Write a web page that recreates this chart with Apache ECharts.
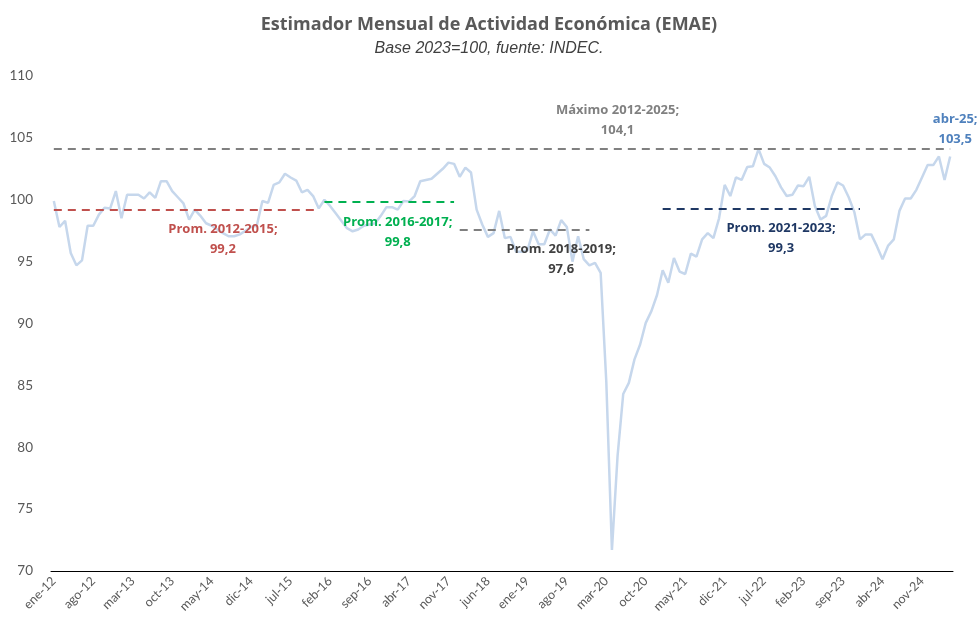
<!DOCTYPE html>
<html>
<head>
<meta charset="utf-8">
<script src="https://cdn.jsdelivr.net/npm/echarts@6/dist/echarts.min.js"></script>
<style>html,body{margin:0;padding:0;background:#fff}#c{width:978px;height:639px}</style>
</head>
<body>
<div id="c"></div>
<script>
// ---- data ----
const monthNames = ['ene','feb','mar','abr','may','jun','jul','ago','sep','oct','nov','dic'];
const years = [12,13,14,15,16,17,18,19,20,21,22,23,24,25];
const categories = [];
years.forEach(y => monthNames.forEach((m, k) => { if (!(y === 25 && k > 3)) categories.push(m + '-' + y); }));

const emae = [
  99.9, 97.8, 98.3, 95.7, 94.7, 95.1, 97.9, 97.9, 98.8, 99.35, 99.3, 100.7,
  98.5, 100.4, 100.4, 100.4, 100.1, 100.6, 100.15, 101.5, 101.5, 100.7, 100.2, 99.7,
  98.4, 99.2, 98.7, 98.1, 97.9, 97.6, 97.3, 97.05, 97.05, 97.2, 97.5, 97.8,
  97.9, 99.9, 99.75, 101.2, 101.4, 102.1, 101.8, 101.55, 100.6, 100.8, 100.3, 99.3,
  100.0, 99.5, 98.9, 98.3, 97.7, 97.45, 97.6, 97.9, 98.0, 98.1, 98.7, 99.4,
  99.4, 99.2, 99.9, 99.85, 100.3, 101.5, 101.6, 101.7, 102.1, 102.5, 103.0, 102.9,
  101.85, 102.6, 102.2, 99.2, 98.0, 97.0, 97.3, 99.1, 96.9, 97.0, 95.8, 95.8,
  95.9, 97.45, 96.4, 96.4, 97.6, 97.1, 98.35, 97.8, 95.0, 97.05, 95.2, 94.7,
  94.9, 94.1, 85.3, 71.7, 79.3, 84.3, 85.2, 87.1, 88.3, 90.05, 91.0, 92.3,
  94.3, 93.3, 95.3, 94.2, 94.0, 95.65, 95.4, 96.8, 97.3, 96.9, 98.5, 101.2,
  100.3, 101.8, 101.6, 102.65, 102.7, 104.1, 102.9, 102.6, 101.9, 101.0, 100.3, 100.4,
  101.15, 101.1, 101.85, 99.5, 98.4, 98.7, 100.3, 101.4, 101.15, 100.2, 99.0, 96.8,
  97.2, 97.2, 96.25, 95.2, 96.3, 96.8, 99.1, 100.1, 100.1, 100.8, 101.8, 102.8,
  102.8, 103.5, 101.6, 103.5
];

// reference lines
const refNames  = ['Prom. 2012-2015', 'Prom. 2016-2017', 'Prom. 2018-2019', 'Prom. 2021-2023', 'Máximo 2012-2025'];
const refValues = [99.2, 99.8, 97.6, 99.3, 104.1];
const refStart  = ['ene-12', 'ene-16', 'ene-18', 'ene-21', 'ene-12'];
const refEnd    = ['dic-15', 'dic-17', 'dic-19', 'dic-23', 'abr-25'];

const yTicks = [70, 75, 80, 85, 90, 95, 100, 105, 110];

// ---- styles ----
const refColors = ['#C0504D', '#00B050', '#7F7F7F', '#1F3864', '#808080'];
const refTextColors = ['#C0504D', '#00B050', '#404040', '#1F3864', '#808080'];
// label anchors (category, value) for annotation text
const labelAnchors = [['jul-14', 96.83], ['feb-17', 97.35], ['jul-19', 95.17], ['oct-22', 96.87], ['may-20', 106.4]];
const FONT = 'Lato, "Open Sans", sans-serif';
const WIDE = '"Open Sans", Lato, sans-serif';
const fmt = v => v.toFixed(1).replace('.', ',');

const markLineData = refValues.map((v, k) => [
  { coord: [refStart[k], v], lineStyle: { color: refColors[k], type: [8, 6], width: 2 } },
  { coord: [refEnd[k], v] }
]);

const markPointData = refValues.map((v, k) => ({
  coord: labelAnchors[k],
  label: {
    formatter: refNames[k] + ';\n' + fmt(v),
    color: refTextColors[k]
  }
}));
const last = categories.length - 1;
markPointData.push({
  coord: [categories[last], 105.68],
  label: { formatter: categories[last] + ';\n' + fmt(emae[last]), color: '#4F81BD', offset: [5, 0] }
});

const chart = echarts.init(document.getElementById('c'));
chart.setOption({
  animation: false,
  backgroundColor: '#ffffff',
  title: {
    text: 'Estimador Mensual de Actividad Económica (EMAE)',
    subtext: 'Base 2023=100, fuente: INDEC.',
    left: 'center',
    top: 11,
    itemGap: 7,
    textStyle: { fontFamily: WIDE, fontSize: 18, fontWeight: 'bold', color: '#595959' },
    subtextStyle: { fontFamily: '"Liberation Sans", Arial, sans-serif', fontSize: 16, fontStyle: 'italic', color: '#404040' }
  },
  grid: { left: 51, right: 25, top: 76, bottom: 68, containLabel: false },
  xAxis: {
    type: 'category',
    data: categories,
    boundaryGap: true,
    axisLine: { show: true, lineStyle: { color: '#000000', width: 1 } },
    axisTick: { show: false },
    axisLabel: {
      interval: 6, rotate: 45, fontFamily: FONT, fontSize: 12.5, color: '#595959', margin: 8
    },
    splitLine: { show: false }
  },
  yAxis: {
    type: 'value',
    min: yTicks[0], max: yTicks[yTicks.length - 1], interval: 5,
    axisLine: { show: false },
    axisTick: { show: false },
    splitLine: { show: false },
    axisLabel: { fontFamily: FONT, fontSize: 13.5, color: '#595959', margin: 18 }
  },
  series: [{
    type: 'line',
    data: emae,
    symbol: 'none',
    lineStyle: { color: '#C6D7EC', width: 2.5 },
    markLine: {
      silent: true,
      symbol: 'none',
      label: { show: false },
      data: markLineData
    },
    markPoint: {
      silent: true,
      symbol: 'circle',
      symbolSize: 0,
      label: {
        show: true,
        position: 'inside',
        fontFamily: WIDE,
        fontSize: 13,
        fontWeight: 'bold',
        lineHeight: 20,
        align: 'center',
        verticalAlign: 'middle'
      },
      data: markPointData
    }
  }]
});
</script>
</body>
</html>
